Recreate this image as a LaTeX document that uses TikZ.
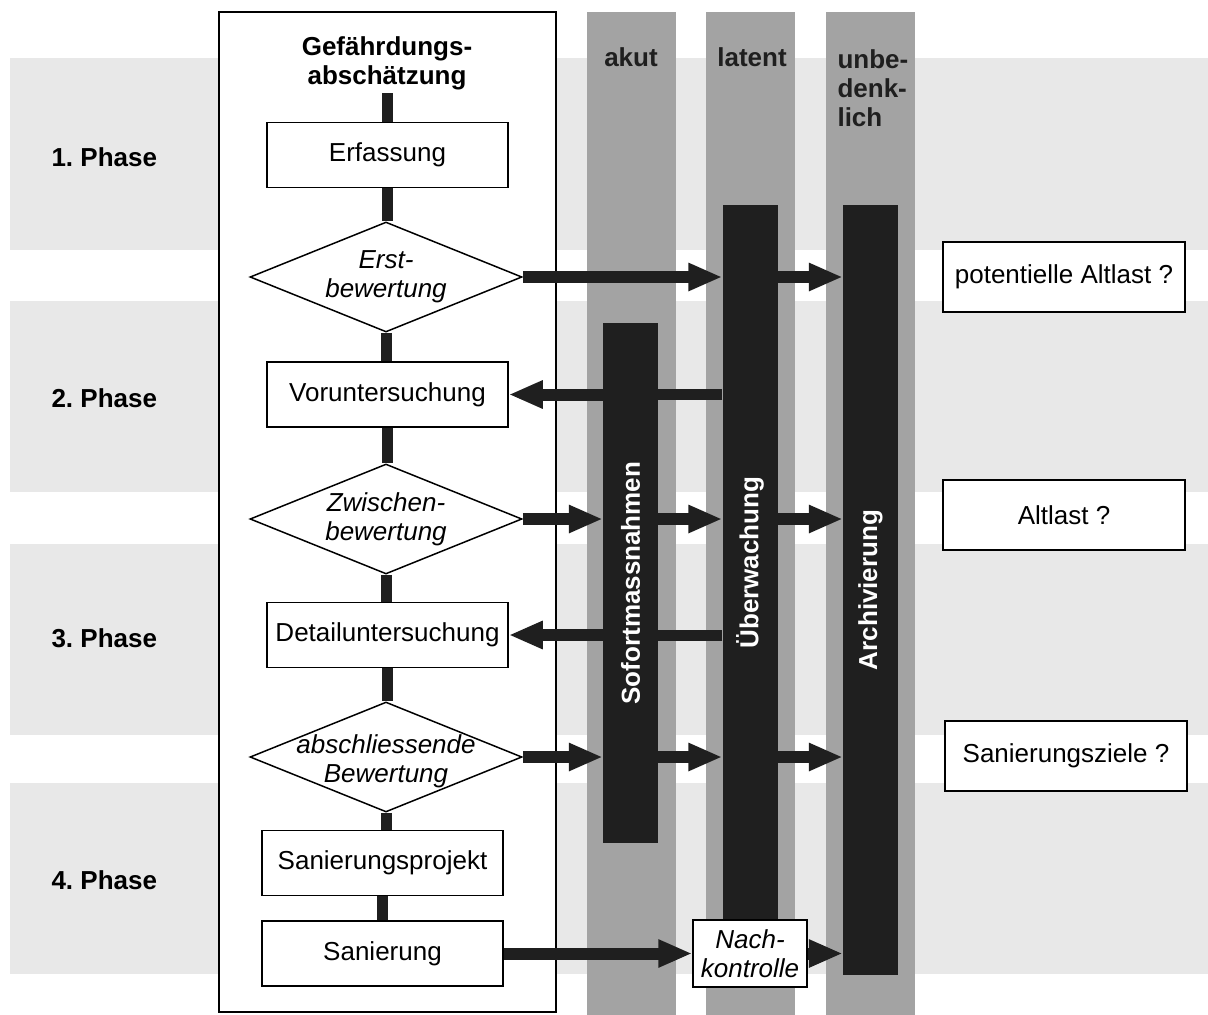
\documentclass[tikz,border=0pt]{standalone}
\usepackage{fontspec}
\setmainfont{Liberation Sans}
\usepackage{graphicx}
\usepackage{tikz}
\usetikzlibrary{shapes.geometric}
\usetikzlibrary {arrows.meta}

\definecolor{bandgray}{gray}{0.91}
\definecolor{colgray}{gray}{0.64}
\definecolor{bargray}{gray}{0.12}
\newcommand\dsize{\fontsize{26}{29}\selectfont}
\frenchspacing

\begin{document}
\begin{tikzpicture}[
x=1pt, y=-1pt,
every node/.style={
    font=\dsize
},
stepbox/.style={draw, line width=1.5pt, fill=white, minimum width=241pt, minimum height=65pt, inner sep=2pt},
decision/.style={diamond, draw, line width=1.5pt, fill=white, minimum width=272pt, minimum height=110pt, inner sep=0pt},
qbox/.style={draw, line width=1.5pt, fill=white, minimum width=242pt, minimum height=70pt},
bar/.style={fill=bargray, text=white, font=\dsize\bfseries, minimum width=55pt, inner sep=0pt},
head/.style={font=\dsize\bfseries, text=bargray},
phase/.style={font=\dsize\bfseries, anchor=west},
link/.style={line width=11pt, bargray},
flow/.style={line width=12pt, bargray, -{Triangle[length=34pt, width=26pt]}}
]
\useasboundingbox (0,0) rectangle (1208,1015);

\foreach \t/\b in {58/250, 301/492, 544/735, 783/974}
    \fill[bandgray] (10,\t) rectangle (1208,\b);
\foreach \x in {587, 706, 826}
    \fill[colgray] (\x,12) rectangle +(89,1003);
\draw[line width=1.2pt, fill=white] (219,12) rectangle (556,1012);

\foreach \n/\y in {1/157, 2/398, 3/638, 4/880}
    \node[phase] (phase\n) at (48,\y) {\n. Phase};

\node[head] (akut) at (631,57) {akut};
\node[head] (latent) at (752,57) {latent};
\node[head, align=left, anchor=west] (unbed) at (834,88) {unbe-\\denk-\\lich};

\node[font=\dsize\bfseries, align=center] (title) at (387,63) {Gefährdungs-\\abschätzung};
\node[stepbox] (erf) at (387.5,155) {Erfassung};
\node[decision, label={[font=\dsize\itshape, align=center]center:Erst-\\bewertung}] (erst) at (386,277) {};
\node[stepbox] (vor) at (387.5,394.5) {Voruntersuchung};
\node[decision, label={[font=\dsize\itshape, align=center]center:Zwischen-\\bewertung}] (zwi) at (386,519) {};
\node[stepbox] (det) at (387.5,635) {Detailuntersuchung};
\node[decision, label={[font=\dsize\itshape, align=center, yshift=-4pt]center:abschliessende\\Bewertung}] (abs) at (386,757) {};
\node[stepbox] (proj) at (382.5,863) {Sanierungsprojekt};
\node[stepbox] (san) at (382.5,953.5) {Sanierung};

\draw[link] (title.south) -- (title.south |- erf.north);
\foreach \a/\b in {erf/erst, erst/vor, vor/zwi, zwi/det, det/abs, abs/proj, proj/san}
    \draw[link] (\a.south) -- (\a.south |- \b.north);

\node[bar, minimum height=520pt] (sofort) at (630.5,583) {\rotatebox{90}{Sofortmassnahmen}};
\node[bar, minimum height=715pt] (ueb) at (750,562.5) {\rotatebox{90}{Überwachung}};
\node[bar, minimum height=770pt] (arch) at (870.5,590) {\rotatebox{90}{Archivierung}};
\node[stepbox, font=\dsize\itshape, align=center, minimum width=114pt, minimum height=67pt, inner sep=1pt] (nach) at (750,953.5) {Nach-\\kontrolle};

\draw[flow] (erst.east) -- (erst.east -| ueb.west);
\draw[flow] (erst.east -| ueb.east) -- (erst.east -| arch.west);
\draw[flow] (vor.east -| sofort.west) -- (vor.east);
\draw[link] (vor.east -| ueb.west) -- (vor.east -| sofort.east);
\foreach \d in {zwi, abs} {
    \draw[flow] (\d.east) -- (\d.east -| sofort.west);
    \draw[flow] (\d.east -| sofort.east) -- (\d.east -| ueb.west);
    \draw[flow] (\d.east -| ueb.east) -- (\d.east -| arch.west);
}
\draw[flow] (det.east -| sofort.west) -- (det.east);
\draw[link] (det.east -| ueb.west) -- (det.east -| sofort.east);
\draw[flow] (san.east) -- (nach.west);
\draw[flow] (nach.east) -- (nach.east -| arch.west);

\node[qbox] (pot) at (1064,277) {potentielle Altlast ?};
\node[qbox] (alt) at (1064,515) {Altlast ?};
\node[qbox] (ziel) at (1066,756) {Sanierungsziele ?};
\end{tikzpicture}
\end{document}
